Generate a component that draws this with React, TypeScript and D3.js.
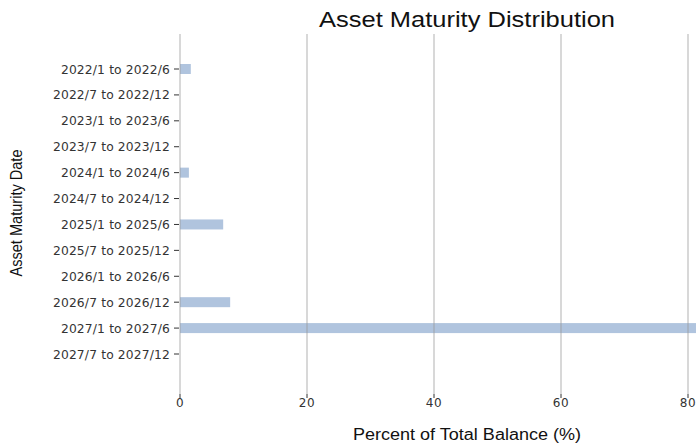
import React, { useRef, useEffect } from 'react';
import * as d3 from 'd3';

const categories = [
  '2022/1 to 2022/6',
  '2022/7 to 2022/12',
  '2023/1 to 2023/6',
  '2023/7 to 2023/12',
  '2024/1 to 2024/6',
  '2024/7 to 2024/12',
  '2025/1 to 2025/6',
  '2025/7 to 2025/12',
  '2026/1 to 2026/6',
  '2026/7 to 2026/12',
  '2027/1 to 2027/6',
  '2027/7 to 2027/12',
];
const percents = [1.7, 0, 0, 0, 1.4, 0, 6.8, 0, 0, 7.9, 84, 0];
const xTicks = [0, 20, 40, 60, 80];

const App = () => {
  const svgRef = useRef<SVGSVGElement>(null);

  useEffect(() => {
    const svg = d3.select(svgRef.current);
    svg.selectAll('*').remove();

    const x = d3.scaleLinear().domain([0, 80]).range([180, 688]);
    const y = d3.scalePoint().domain(categories).range([69, 354]);
    const gridTop = 34;
    const gridBottom = 394;

    // bars
    svg.append('g')
      .selectAll('rect')
      .data(categories)
      .enter().append('rect')
      .attr('x', x(0))
      .attr('y', (d) => (y(d) as number) - 5)
      .attr('width', (d, i) => x(percents[i]) - x(0))
      .attr('height', 10)
      .attr('fill', '#b0c4de');

    // vertical grid lines
    svg.append('g')
      .selectAll('line')
      .data(xTicks)
      .enter().append('line')
      .attr('x1', (d) => x(d))
      .attr('x2', (d) => x(d))
      .attr('y1', gridTop)
      .attr('y2', gridBottom)
      .attr('stroke', '#999')
      .attr('stroke-opacity', 0.5)
      .attr('stroke-width', 1.5);

    // x ticks
    const xg = svg.append('g');
    xg.selectAll('line')
      .data(xTicks)
      .enter().append('line')
      .attr('x1', (d) => x(d))
      .attr('x2', (d) => x(d))
      .attr('y1', gridBottom)
      .attr('y2', gridBottom + 4)
      .attr('stroke', '#333')
      .attr('stroke-width', 1);
    xg.selectAll('text')
      .data(xTicks)
      .enter().append('text')
      .attr('x', (d) => x(d))
      .attr('y', gridBottom + 13)
      .attr('text-anchor', 'middle')
      .attr('font-family', 'DejaVu Sans')
      .attr('font-size', 12)
      .attr('letter-spacing', 0.5)
      .attr('fill', '#333')
      .text((d) => d);

    // y ticks
    const yg = svg.append('g');
    yg.selectAll('line')
      .data(categories)
      .enter().append('line')
      .attr('x1', 174)
      .attr('x2', 179)
      .attr('y1', (d) => y(d) as number)
      .attr('y2', (d) => y(d) as number)
      .attr('stroke', '#333')
      .attr('stroke-width', 1);
    yg.selectAll('text')
      .data(categories)
      .enter().append('text')
      .attr('x', 170)
      .attr('y', (d) => (y(d) as number) + 4.5)
      .attr('text-anchor', 'end')
      .attr('font-family', 'DejaVu Sans')
      .attr('font-size', 12.3)
      .attr('letter-spacing', 0.15)
      .attr('fill', '#333')
      .text((d) => d);

    // title and axis labels
    svg.append('text')
      .attr('x', 467)
      .attr('y', 27)
      .attr('text-anchor', 'middle')
      .attr('font-family', 'Liberation Sans, Arial, sans-serif')
      .attr('font-size', 22)
      .attr('textLength', 296)
      .attr('lengthAdjust', 'spacingAndGlyphs')
      .attr('fill', '#111')
      .text('Asset Maturity Distribution');

    svg.append('text')
      .attr('x', 467)
      .attr('y', 440)
      .attr('text-anchor', 'middle')
      .attr('font-family', 'Liberation Sans, Arial, sans-serif')
      .attr('font-size', 16)
      .attr('textLength', 228)
      .attr('lengthAdjust', 'spacingAndGlyphs')
      .attr('fill', '#111')
      .text('Percent of Total Balance (%)');

    svg.append('text')
      .attr('transform', 'translate(22,213) rotate(-90)')
      .attr('text-anchor', 'middle')
      .attr('font-family', 'Liberation Sans, Arial, sans-serif')
      .attr('font-size', 17)
      .attr('textLength', 127)
      .attr('lengthAdjust', 'spacingAndGlyphs')
      .attr('fill', '#111')
      .text('Asset Maturity Date');
  }, []);

  return (
    <div style={{ position: 'absolute', left: 0, top: 0 }}>
      <svg ref={svgRef} width={696} height={444} style={{ display: 'block', background: '#fff' }}></svg>
    </div>
  );
};

export default App;
